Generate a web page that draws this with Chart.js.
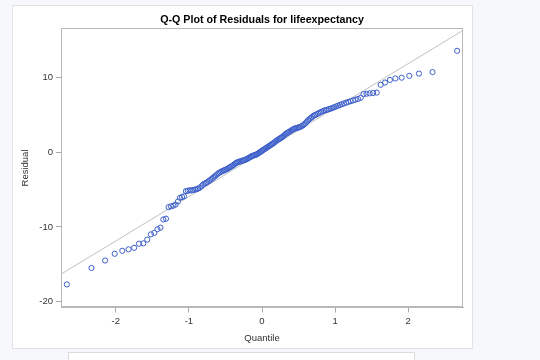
<!DOCTYPE html>
<html><head><meta charset="utf-8">
<script src="https://cdn.jsdelivr.net/npm/chart.js@4"></script>
<style>
html,body{margin:0;padding:0;background:#f7f8fb;width:540px;height:360px;overflow:hidden;}
#panel{position:absolute;left:12px;top:5px;width:459px;height:342px;background:#fff;border:1px solid #e2e2e2;}
#box2{position:absolute;left:68px;top:352px;width:345px;height:20px;background:#fff;border:1px solid #dcdcdc;}
#wrap{position:absolute;left:0;top:0;width:540px;height:360px;}
</style></head><body>
<div id="panel"></div><div id="box2"></div>
<div id="wrap"><canvas id="c" width="540" height="360"></canvas></div>
<script>
// Normal quantiles (x) for each sorted residual
const quantiles = [
-2.670,-2.333,-2.147,-2.015,-1.911,-1.825,-1.750,-1.683,-1.624,-1.570,
-1.520,-1.473,-1.430,-1.389,-1.350,-1.313,-1.278,-1.245,-1.212,-1.181,
-1.151,-1.122,-1.094,-1.067,-1.040,-1.015,-0.990,-0.965,-0.942,-0.918,
-0.895,-0.873,-0.851,-0.829,-0.808,-0.787,-0.767,-0.747,-0.727,-0.707,
-0.688,-0.669,-0.650,-0.631,-0.613,-0.595,-0.577,-0.559,-0.541,-0.523,
-0.506,-0.489,-0.472,-0.455,-0.438,-0.421,-0.405,-0.389,-0.372,-0.356,
-0.340,-0.324,-0.308,-0.292,-0.276,-0.261,-0.245,-0.230,-0.214,-0.198,
-0.183,-0.168,-0.152,-0.137,-0.122,-0.107,-0.091,-0.076,-0.061,-0.046,
-0.030,-0.015,0.000,0.015,0.030,0.046,0.061,0.076,0.091,0.107,
0.122,0.137,0.152,0.168,0.183,0.198,0.214,0.230,0.245,0.261,
0.276,0.292,0.308,0.324,0.340,0.356,0.372,0.389,0.405,0.421,
0.438,0.455,0.472,0.489,0.506,0.523,0.541,0.559,0.577,0.595,
0.613,0.631,0.650,0.669,0.688,0.707,0.727,0.747,0.767,0.787,
0.808,0.829,0.851,0.873,0.895,0.918,0.942,0.965,0.990,1.015,
1.040,1.067,1.094,1.122,1.151,1.181,1.212,1.245,1.278,1.313,
1.350,1.389,1.430,1.473,1.520,1.570,1.624,1.683,1.750,1.825,
1.911,2.015,2.147,2.333,2.670
];
// Residuals (y), sorted
const residuals = [
-17.7,-15.5,-14.5,-13.6,-13.2,-13.0,-12.8,-12.25,-12.2,-11.7,
-11.0,-10.8,-10.3,-10.1,-9.0,-8.9,-7.35,-7.25,-7.15,-7.0,
-6.6,-6.1,-6.0,-5.9,-5.2,-5.15,-5.1,-5.1,-5.05,-5.0,
-4.95,-4.85,-4.75,-4.55,-4.35,-4.2,-4.1,-4.0,-3.85,-3.7,
-3.55,-3.4,-3.25,-3.1,-2.95,-2.8,-2.7,-2.6,-2.5,-2.45,
-2.35,-2.3,-2.2,-2.1,-2.0,-1.9,-1.8,-1.7,-1.55,-1.45,
-1.35,-1.3,-1.25,-1.2,-1.15,-1.1,-1.05,-1.0,-0.95,-0.85,
-0.75,-0.7,-0.6,-0.5,-0.45,-0.4,-0.35,-0.3,-0.2,-0.1,
0.0,0.1,0.2,0.3,0.4,0.5,0.6,0.7,0.8,0.9,
1.0,1.1,1.2,1.3,1.45,1.55,1.65,1.75,1.85,1.95,
2.05,2.15,2.3,2.45,2.55,2.65,2.75,2.85,2.95,3.05,
3.15,3.2,3.25,3.3,3.35,3.4,3.5,3.6,3.75,3.9,
4.1,4.3,4.45,4.6,4.75,4.9,5.0,5.1,5.2,5.3,
5.4,5.5,5.6,5.65,5.7,5.8,5.85,5.95,6.05,6.15,
6.25,6.35,6.45,6.55,6.65,6.75,6.85,6.95,7.05,7.15,
7.3,7.8,7.85,7.9,7.95,8.0,9.05,9.35,9.7,9.9,
10.0,10.25,10.55,10.75,13.6
];
const refIntercept = 0;
const refSlope = 5.94;
const xRange = [-2.75, 2.75];
const yRange = [-20.8, 16.6];
const xTickValues = [-2, -1, 0, 1, 2];
const yTickValues = [-20, -10, 0, 10];

const FONT = "'Liberation Sans', Arial, Helvetica, sans-serif";
const points = quantiles.map((q, i) => ({x: q, y: residuals[i]}));
const refLine = xRange.map(x => ({x: x, y: refIntercept + refSlope * x}));

const framePlugin = {
  id: 'frame',
  beforeDatasetsDraw(chart) {
    const a = chart.chartArea, ctx = chart.ctx;
    ctx.save();
    ctx.strokeStyle = '#b8b8b8';
    ctx.lineWidth = 1;
    ctx.strokeRect(Math.round(a.left) + 0.5, Math.round(a.top) + 0.5,
                   Math.round(a.right - a.left) - 1, Math.round(a.bottom - a.top) - 1);
    ctx.restore();
  }
};

new Chart(document.getElementById('c'), {
  data: {
    datasets: [
      {
        type: 'scatter',
        data: points,
        pointStyle: 'circle',
        pointRadius: 2.6,
        pointBorderWidth: 1,
        pointBackgroundColor: 'rgba(0,0,0,0)',
        pointBorderColor: '#3d5fca',
        borderColor: '#3d5fca',
        backgroundColor: 'rgba(0,0,0,0)'
      },
      {
        type: 'line',
        data: refLine,
        borderColor: '#c0c0c0',
        borderWidth: 1,
        pointRadius: 0,
        fill: false
      }
    ]
  },
  options: {
    responsive: false,
    animation: false,
    devicePixelRatio: 1,
    layout: {padding: {left: 12, right: 77, top: 5, bottom: 12}},
    plugins: {
      legend: {display: false},
      tooltip: {enabled: false},
      title: {
        display: true,
        fullSize: false,
        text: 'Q-Q Plot of Residuals for lifeexpectancy',
        color: '#000',
        font: {family: FONT, size: 10.7, weight: 'bold'},
        padding: {top: 9, bottom: 1.6}
      }
    },
    scales: {
      x: {
        type: 'linear',
        min: xRange[0], max: xRange[1],
        afterBuildTicks: s => { s.ticks = xTickValues.map(v => ({value: v})); },
        afterFit: s => { s.height = 40.5; },
        grid: {drawOnChartArea: false, drawTicks: true, tickLength: 5, color: '#a8a8a8'},
        border: {display: true, color: '#b8b8b8'},
        ticks: {color: '#333', font: {family: FONT, size: 9.5}, padding: 3, maxRotation: 0},
        title: {display: true, text: 'Quantile', color: '#333', font: {family: FONT, size: 9.5}, padding: {top: 0, bottom: 4.4}}
      },
      y: {
        type: 'linear',
        min: yRange[0], max: yRange[1],
        afterBuildTicks: s => { s.ticks = yTickValues.map(v => ({value: v})); },
        afterFit: s => { s.width = 49; },
        grid: {drawOnChartArea: false, drawTicks: true, tickLength: 5, color: '#a8a8a8'},
        border: {display: true, color: '#b8b8b8'},
        ticks: {color: '#333', font: {family: FONT, size: 9.5}, padding: 3},
        title: {display: true, text: 'Residual', color: '#333', font: {family: FONT, size: 9.5}, padding: {top: 8, bottom: 0}}
      }
    }
  },
  plugins: [framePlugin]
});
</script>
</body></html>
